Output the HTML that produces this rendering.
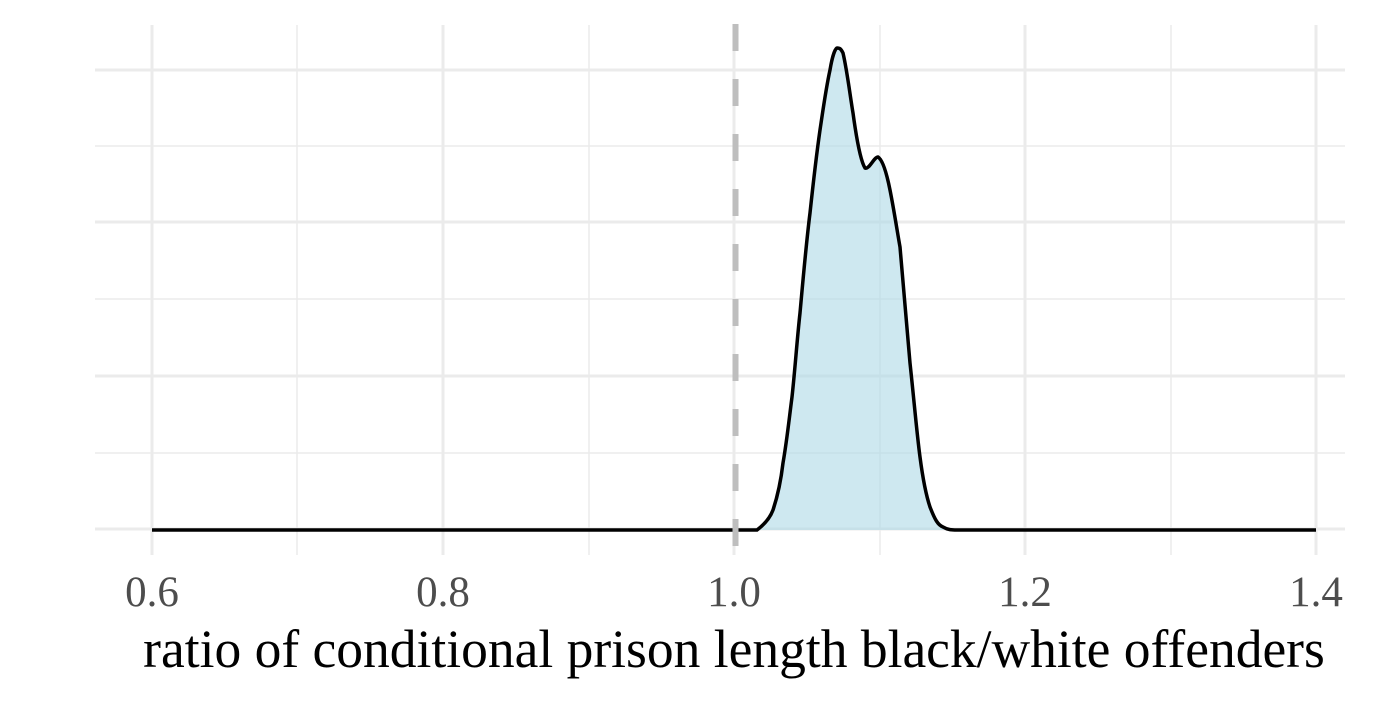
<!DOCTYPE html>
<html><head><style>body{margin:0;background:#fff}</style></head><body>
<svg width="1400" height="700" xmlns="http://www.w3.org/2000/svg">
<g stroke="#ebebeb" stroke-width="1.5">
<line x1="297" y1="25" x2="297" y2="555"/><line x1="589" y1="25" x2="589" y2="555"/><line x1="880" y1="25" x2="880" y2="555"/><line x1="1171" y1="25" x2="1171" y2="555"/>
<line x1="95" y1="146" x2="1345" y2="146"/><line x1="95" y1="299" x2="1345" y2="299"/><line x1="95" y1="453" x2="1345" y2="453"/>
</g>
<g stroke="#ebebeb" stroke-width="3">
<line x1="152" y1="25" x2="152" y2="555"/><line x1="443" y1="25" x2="443" y2="555"/><line x1="734" y1="25" x2="734" y2="555"/><line x1="1025" y1="25" x2="1025" y2="555"/><line x1="1316" y1="25" x2="1316" y2="555"/>
<line x1="95" y1="70" x2="1345" y2="70"/><line x1="95" y1="222" x2="1345" y2="222"/><line x1="95" y1="376" x2="1345" y2="376"/><line x1="95" y1="529" x2="1345" y2="529"/>
</g>
<path d="M730,530 L757,528 C765,524 770,518 773,510 C778,495 781,480 783,463 C787,440 789,420 792,397 C795,370 797,340 800,313 C803,280 806,245 810,213 C813,185 816,158 820,130 C823,110 826,88 830,70 C832,58 835,48 837,48 C840,48 841,49 843,53 C847,70 850,95 853,113 C856,135 860,160 865,168 C869,170 874,157 878,157 C883,160 887,175 890,190 C894,210 897,230 900,247 C904,290 907,330 910,363 C914,400 917,435 920,457 C923,480 926,495 930,507 C935,520 938,525 943,527 L957,530 Z" fill="#add8e6" fill-opacity="0.6"/>
<path d="M152,530 L757,530 C765,524 770,518 773,510 C778,495 781,480 783,463 C787,440 789,420 792,397 C795,370 797,340 800,313 C803,280 806,245 810,213 C813,185 816,158 820,130 C823,110 826,88 830,70 C832,58 835,48 837,48 C840,48 841,49 843,53 C847,70 850,95 853,113 C856,135 860,160 865,168 C869,170 874,157 878,157 C883,160 887,175 890,190 C894,210 897,230 900,247 C904,290 907,330 910,363 C914,400 917,435 920,457 C923,480 926,495 930,507 C935,520 938,525 943,527 C948,530 952,530 957,530 L1316,530" fill="none" stroke="#000" stroke-width="3.5"/>
<line x1="735.5" y1="24" x2="735.5" y2="555" stroke="#bebebe" stroke-width="6" stroke-dasharray="27 28"/>
<g font-family="Liberation Serif, serif" font-size="43" fill="#4d4d4d" text-anchor="middle">
<text x="152" y="606">0.6</text><text x="443" y="606">0.8</text><text x="734" y="606">1.0</text><text x="1025" y="606">1.2</text><text x="1316" y="606">1.4</text>
</g>
<text x="734" y="667" font-family="Liberation Serif, serif" font-size="53.5" fill="#000" text-anchor="middle">ratio of conditional prison length black/white offenders</text>
</svg>
</body></html>
